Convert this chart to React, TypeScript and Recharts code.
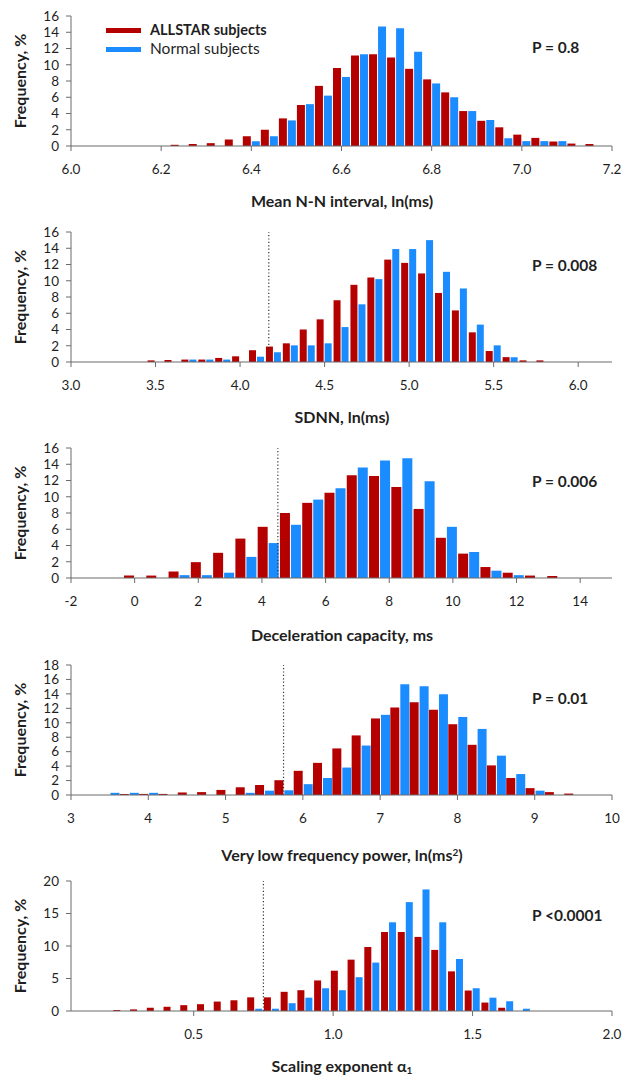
import { BarChart, Bar, XAxis, YAxis, ReferenceLine } from 'recharts'

const RED = '#b50000'
const BLUE = '#1a8cff'
const AXIS = '#6b6b6b'
const INK = '#1f1f1f'
const FONT = 'Lato, "Open Sans", sans-serif'

// Mean N-N interval, ln(ms) — bins of 0.04
const nnBins = [6.24, 6.28, 6.32, 6.36, 6.40, 6.44, 6.48, 6.52, 6.56, 6.60, 6.64, 6.68,
  6.72, 6.76, 6.80, 6.84, 6.88, 6.92, 6.96, 7.00, 7.04, 7.08, 7.12, 7.16]
const nnAllstar = [0.15, 0.25, 0.35, 0.8, 1.2, 2.0, 3.4, 5.05, 7.4, 9.6, 11.15, 11.3,
  10.9, 9.5, 8.2, 6.6, 4.3, 3.1, 2.3, 1.4, 1.0, 0.55, 0.3, 0.25]
const nnNormal = [0, 0, 0, 0, 0.6, 1.2, 3.15, 5.15, 6.2, 8.5, 11.3, 14.7,
  14.5, 11.6, 7.7, 6.0, 4.3, 3.2, 0.95, 0.6, 0.6, 0.6, 0, 0]
const nnTicks = [6.0, 6.2, 6.4, 6.6, 6.8, 7.0, 7.2]

// SDNN, ln(ms) — bins of 0.1
const sdBins = [3.5, 3.6, 3.7, 3.8, 3.9, 4.0, 4.1, 4.2, 4.3, 4.4, 4.5, 4.6,
  4.7, 4.8, 4.9, 5.0, 5.1, 5.2, 5.3, 5.4, 5.5, 5.6, 5.7, 5.8]
const sdAllstar = [0.2, 0.25, 0.3, 0.3, 0.5, 0.7, 1.45, 1.9, 2.3, 4.0, 5.25, 7.6,
  9.5, 10.4, 12.6, 12.2, 10.9, 8.5, 6.35, 3.65, 1.35, 0.6, 0.2, 0.2]
const sdNormal = [0, 0, 0.3, 0.3, 0.3, 0, 0.65, 1.2, 2.05, 2.05, 2.3, 4.3,
  7.1, 10.2, 13.9, 13.9, 15.0, 11.1, 9.05, 4.6, 2.05, 0.6, 0, 0]
const sdTicks = [3.0, 3.5, 4.0, 4.5, 5.0, 5.5, 6.0]

// Deceleration capacity, ms — bins of 0.7
const dcBins = [0, 0.7, 1.4, 2.1, 2.8, 3.5, 4.2, 4.9, 5.6, 6.3, 7.0, 7.7,
  8.4, 9.1, 9.8, 10.5, 11.2, 11.9, 12.6, 13.3]
const dcAllstar = [0.3, 0.3, 0.8, 1.95, 3.1, 4.85, 6.3, 8.0, 9.25, 10.5, 12.65, 12.55,
  11.2, 8.5, 4.95, 3.0, 1.35, 0.65, 0.3, 0.25]
const dcNormal = [0, 0, 0.35, 0.35, 0.65, 2.6, 4.3, 6.55, 9.65, 11.05, 13.6, 14.45,
  14.75, 11.9, 6.3, 3.2, 0.9, 0.35, 0, 0]
const dcTicks = [-2, 0, 2, 4, 6, 8, 10, 12, 14]

// Very low frequency power, ln(ms2) — bins of 0.25
const vlfBins = [3.5, 3.75, 4.0, 4.25, 4.5, 4.75, 5.0, 5.25, 5.5, 5.75, 6.0, 6.25,
  6.5, 6.75, 7.0, 7.25, 7.5, 7.75, 8.0, 8.25, 8.5, 8.75, 9.0, 9.25, 9.5]
const vlfAllstar = [0, 0.15, 0.15, 0.15, 0.35, 0.4, 0.7, 1.07, 1.4, 2.05, 3.35, 4.45,
  6.45, 8.25, 10.6, 12.1, 12.85, 11.8, 9.8, 6.95, 4.1, 2.35, 0.95, 0.4, 0.2]
const vlfNormal = [0.3, 0.3, 0.3, 0, 0, 0, 0, 0.3, 0.6, 0.65, 1.5, 2.35,
  3.8, 6.85, 11.1, 15.35, 15.05, 13.95, 10.8, 9.15, 5.45, 2.9, 0.6, 0, 0]
const vlfTicks = [3, 4, 5, 6, 7, 8, 9, 10]

// Scaling exponent alpha1 — bins of 0.06
const alBins = [0.24, 0.30, 0.36, 0.42, 0.48, 0.54, 0.60, 0.66, 0.72, 0.78, 0.84, 0.90,
  0.96, 1.02, 1.08, 1.14, 1.20, 1.26, 1.32, 1.38, 1.44, 1.50, 1.56, 1.62, 1.68]
const alAllstar = [0.15, 0.25, 0.5, 0.65, 0.9, 1.05, 1.45, 1.65, 2.1, 2.1, 2.95, 3.2,
  4.7, 6.2, 7.9, 9.85, 12.15, 12.15, 11.4, 9.4, 6.1, 3.15, 1.3, 0.5, 0]
const alNormal = [0, 0, 0, 0, 0, 0, 0, 0, 0.35, 0.35, 1.2, 2.05,
  3.5, 3.2, 5.2, 7.45, 13.65, 16.75, 18.7, 13.65, 8.0, 3.5, 2.05, 1.5, 0.35]
const alTicks = [0.5, 1.0, 1.5, 2.0]

const freq16 = [0, 2, 4, 6, 8, 10, 12, 14, 16]
const freq18 = [0, 2, 4, 6, 8, 10, 12, 14, 16, 18]
const freq20 = [0, 5, 10, 15, 20]

const oneDec = (v: number) => v.toFixed(1)
const plain = (v: number) => String(v)

interface PanelProps {
  top: number
  bins: number[]
  allstar: number[]
  normal: number[]
  domain: [number, number]
  xTicks: number[]
  yTicks: number[]
  fmt: (v: number) => string
  cutoff?: number
}

function Panel({ top, bins, allstar, normal, domain, xTicks, yTicks, fmt, cutoff }: PanelProps) {
  const data = bins.map((x, i) => ({ x, allstar: allstar[i], normal: normal[i] }))
  const tick = { fill: INK, fontSize: 13.5, fontFamily: FONT }
  return (
    <div style={{ position: 'absolute', left: 0, top: top - 10 }}>
      <BarChart width={622} height={170} data={data}
                margin={{ top: 10, right: 10, bottom: 0, left: 0 }}
                barGap={1} barCategoryGap={0.5}>
        <XAxis dataKey="x" type="number" domain={domain} ticks={xTicks} interval={0}
               tickFormatter={fmt} height={30} tickSize={5} tickMargin={13}
               stroke={AXIS} tick={tick} allowDataOverflow />
        <YAxis type="number" domain={[0, yTicks[yTicks.length - 1]]} ticks={yTicks} interval={0}
               width={71} tickSize={5} tickMargin={7} stroke={AXIS} tick={tick} />
        <Bar dataKey="allstar" fill={RED} isAnimationActive={false} />
        <Bar dataKey="normal" fill={BLUE} isAnimationActive={false} />
        {cutoff != null && (
          <ReferenceLine x={cutoff} stroke="#333" strokeWidth={1.2} strokeDasharray="1.2 2.2" />
        )}
      </BarChart>
    </div>
  )
}

const centered = (x: number, y: number): React.CSSProperties => ({
  position: 'absolute', left: x, top: y, transform: 'translate(-50%, -50%)',
  whiteSpace: 'nowrap', lineHeight: 1,
})

function YTitle({ y }: { y: number }) {
  return (
    <div style={{ ...centered(20, y), transform: 'translate(-50%, -50%) rotate(-90deg)',
                  fontWeight: 700, fontSize: 16 }}>
      Frequency, %
    </div>
  )
}

function XTitle({ y, children }: { y: number; children: React.ReactNode }) {
  return <div style={{ ...centered(342, y), fontWeight: 700, fontSize: 16 }}>{children}</div>
}

function PValue({ y, text }: { y: number; text: string }) {
  return (
    <div style={{ position: 'absolute', left: 532, top: y, transform: 'translateY(-50%)',
                  whiteSpace: 'nowrap', lineHeight: 1, fontWeight: 700, fontSize: 15.5 }}>
      {text}
    </div>
  )
}

const supStyle: React.CSSProperties = { fontSize: 10, lineHeight: 0, verticalAlign: '0.55em' }
const subStyle: React.CSSProperties = { fontSize: 10, lineHeight: 0, verticalAlign: '-0.2em' }

export default function App() {
  return (
    <div style={{ position: 'absolute', left: 0, top: 0, width: 622, height: 1077,
                  background: '#fff', fontFamily: FONT, color: INK, overflow: 'hidden' }}>
      <Panel top={16} bins={nnBins} allstar={nnAllstar} normal={nnNormal}
             domain={[6.0, 7.2]} xTicks={nnTicks} yTicks={freq16} fmt={oneDec} />
      <Panel top={232} bins={sdBins} allstar={sdAllstar} normal={sdNormal}
             domain={[3.0, 6.2]} xTicks={sdTicks} yTicks={freq16} fmt={oneDec} cutoff={4.17} />
      <Panel top={448} bins={dcBins} allstar={dcAllstar} normal={dcNormal}
             domain={[-2, 15]} xTicks={dcTicks} yTicks={freq16} fmt={plain} cutoff={4.5} />
      <Panel top={665} bins={vlfBins} allstar={vlfAllstar} normal={vlfNormal}
             domain={[3, 10]} xTicks={vlfTicks} yTicks={freq18} fmt={plain} cutoff={5.75} />
      <Panel top={881} bins={alBins} allstar={alAllstar} normal={alNormal}
             domain={[0.06, 2.0]} xTicks={alTicks} yTicks={freq20} fmt={oneDec} cutoff={0.75} />

      {/* legend */}
      <div style={{ position: 'absolute', left: 106, top: 28, width: 35, height: 4.5, background: RED }} />
      <div style={{ position: 'absolute', left: 106, top: 47, width: 35, height: 4.5, background: BLUE }} />
      <div style={{ position: 'absolute', left: 150, top: 30, transform: 'translateY(-50%)',
                    lineHeight: 1, whiteSpace: 'nowrap', fontWeight: 700, fontSize: 14.5 }}>
        ALLSTAR subjects
      </div>
      <div style={{ position: 'absolute', left: 150, top: 49, transform: 'translateY(-50%)',
                    lineHeight: 1, whiteSpace: 'nowrap', fontSize: 15.5 }}>
        Normal subjects
      </div>

      <PValue y={48} text="P = 0.8" />
      <PValue y={266} text="P = 0.008" />
      <PValue y={482} text="P = 0.006" />
      <PValue y={699} text="P = 0.01" />
      <PValue y={916} text="P <0.0001" />

      <YTitle y={81} />
      <YTitle y={297} />
      <YTitle y={513} />
      <YTitle y={730} />
      <YTitle y={946} />

      <XTitle y={201}>Mean N-N interval, ln(ms)</XTitle>
      <XTitle y={417}>SDNN, ln(ms)</XTitle>
      <XTitle y={635}>Deceleration capacity, ms</XTitle>
      <XTitle y={855}>Very low frequency power, ln(ms<sup style={supStyle}>2</sup>)</XTitle>
      <XTitle y={1066}>Scaling exponent α<sub style={subStyle}>1</sub></XTitle>
    </div>
  )
}
